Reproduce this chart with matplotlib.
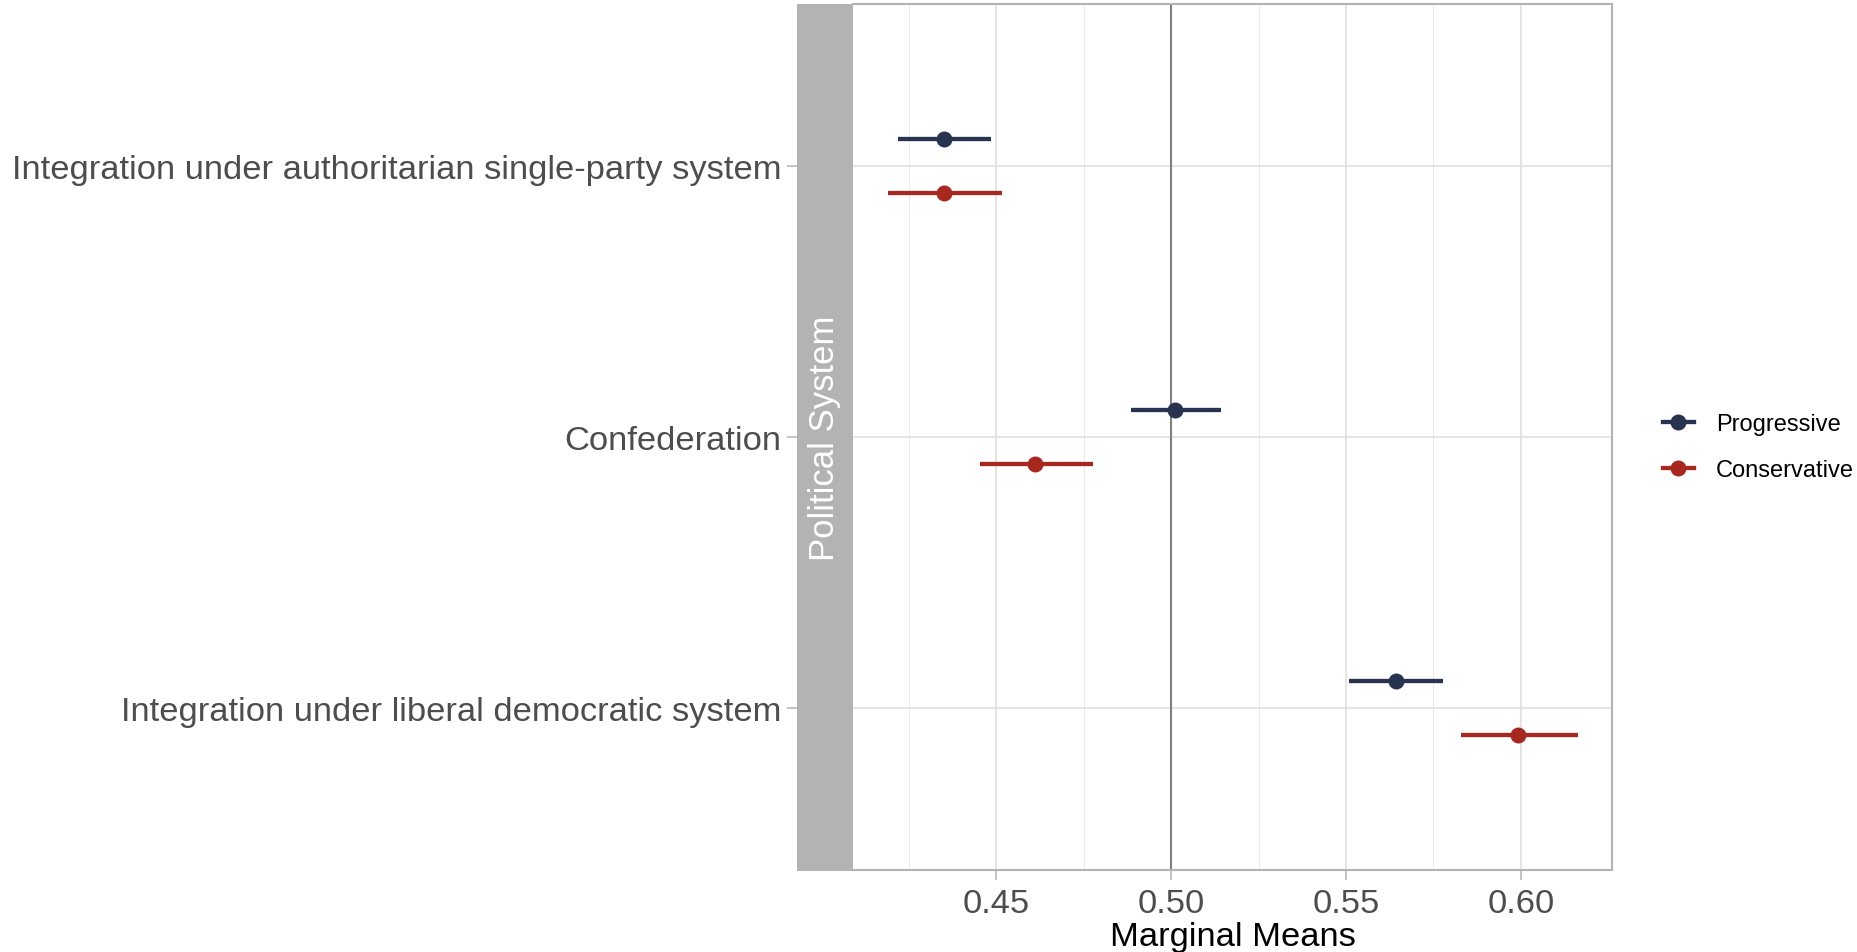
import matplotlib
matplotlib.use("Agg")
import matplotlib.pyplot as plt
from matplotlib.lines import Line2D
import numpy as np

plt.rcParams['font.family'] = ['Liberation Sans', 'DejaVu Sans']

categories = ["Integration under authoritarian single-party system",
              "Confederation",
              "Integration under liberal democratic system"]
groups = ["Progressive", "Conservative"]
prog_est = [0.4351, 0.5010, 0.5642]
prog_lo = [0.4220, 0.4885, 0.5510]
prog_hi = [0.4486, 0.5142, 0.5777]
cons_est = [0.4351, 0.4611, 0.5993]
cons_lo = [0.4189, 0.4453, 0.5828]
cons_hi = [0.4517, 0.4777, 0.6162]
xticks = [0.45, 0.50, 0.55, 0.60]
xtick_labels = ["0.45", "0.50", "0.55", "0.60"]
minor_ticks = [0.425, 0.475, 0.525, 0.575]
ref_value = 0.5
strip_label = "Political System"
x_title = "Marginal Means"

colors = {"Progressive": "#283350", "Conservative": "#A6281F"}

W, H = 1858, 953
fig = plt.figure(figsize=(W / 100, H / 100), dpi=100)

left, right, top, bottom = 853, 1612, 5, 871
ax = fig.add_axes([left / W, 1 - bottom / H, (right - left) / W, (bottom - top) / H])

n = len(categories)
ypos = np.arange(n, 0, -1)  # top category first
offsets = {"Progressive": 0.1, "Conservative": -0.1}
data = {"Progressive": (prog_est, prog_lo, prog_hi),
        "Conservative": (cons_est, cons_lo, cons_hi)}

ax.axvline(ref_value, color="#7F7F7F", lw=1.5, zorder=1.5)

for g in groups:
    est, lo, hi = data[g]
    y = ypos + offsets[g]
    ax.hlines(y, lo, hi, color=colors[g], lw=3.1, zorder=3)
    ax.plot(est, y, 'o', color=colors[g], ms=11.5, zorder=4, mec='none')

allv = prog_lo + prog_hi + cons_lo + cons_hi
lo_r, hi_r = min(allv), max(allv)
pad = 0.05 * (hi_r - lo_r)
ax.set_xlim(lo_r - pad, hi_r + pad)
ax.set_ylim(0.4, n + 0.6)

ax.set_xticks(xticks)
ax.set_xticklabels(xtick_labels)
ax.set_xticks(minor_ticks, minor=True)
ax.set_yticks(ypos)
ax.set_yticklabels(categories)

ax.grid(True, which='major', color="#DEDEDE", lw=1.1, zorder=0)
ax.grid(True, which='minor', axis='x', color="#E6E6E6", lw=0.6, zorder=0)
ax.set_axisbelow(True)

for s in ax.spines.values():
    s.set_color("#B3B3B3")
    s.set_linewidth(1.5)
ax.spines['left'].set_position(('outward', 56 * 0.72))
ax.spines['left'].set_color('none')

ax.tick_params(axis='x', which='major', colors="#B3B3B3", labelcolor="#4D4D4D",
               labelsize=24.8, length=7, width=1.1, pad=6)
ax.tick_params(axis='x', which='minor', length=0)
ax.tick_params(axis='y', colors="#B3B3B3", labelcolor="#4D4D4D",
               labelsize=24.8, length=7, width=1.1, pad=4)

ax.set_xlabel(x_title, fontsize=24.8, color="black", labelpad=1.5)

# strip
sax = fig.add_axes([797 / W, 1 - 872 / H, 56 / W, 867 / H])
sax.set_facecolor("#B3B3B3")
sax.set_xticks([])
sax.set_yticks([])
for s in sax.spines.values():
    s.set_visible(False)
sax.text(0.5, 0.5, strip_label, rotation=90, ha='center', va='center',
         color='white', fontsize=25, transform=sax.transAxes)

handles = [Line2D([0], [0], color=colors[g], lw=3.1, marker='o', ms=11.5, mec='none')
           for g in groups]
fig.legend(handles, groups, loc='center left', bbox_to_anchor=(1663 / W, 1 - 448 / H),
           frameon=False, fontsize=17, handlelength=1.3, handletextpad=0.95,
           labelspacing=1.03, borderpad=0, borderaxespad=0)

fig.savefig("out.png", dpi=100)
